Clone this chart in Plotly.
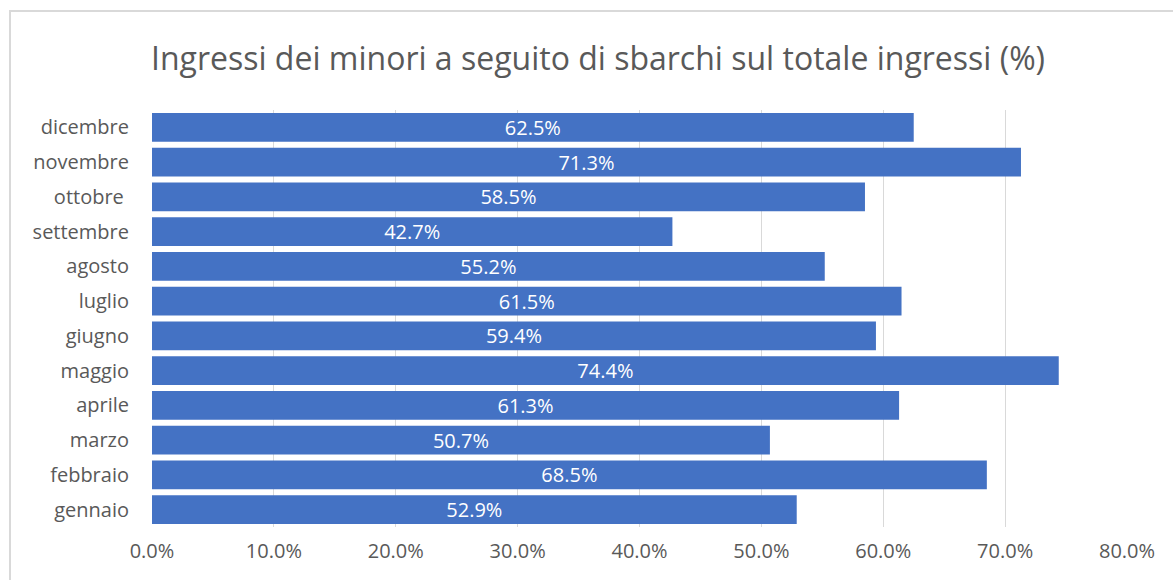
import plotly.graph_objects as go

months = ["gennaio", "febbraio", "marzo", "aprile", "maggio", "giugno",
          "luglio", "agosto", "settembre", "ottobre\u00a0", "novembre", "dicembre"]
values = [52.9, 68.5, 50.7, 61.3, 74.4, 59.4, 61.5, 55.2, 42.7, 58.5, 71.3, 62.5]
tick_vals = [0, 10, 20, 30, 40, 50, 60, 70, 80]
tick_text = ["0.0%", "10.0%", "20.0%", "30.0%", "40.0%", "50.0%", "60.0%", "70.0%", "80.0%"]
labels = [f"{v:.1f}%" for v in values]

W, H = 1173, 580
L, R, T, B = 152, 46, 110, 53
pw, ph = W - L - R, H - T - B
FONT = "Open Sans"

fig = go.Figure(go.Bar(
    x=values, y=months, orientation="h",
    marker=dict(color="#4472C4", line=dict(width=0)),
    text=labels, textposition="inside", insidetextanchor="middle",
    constraintext="none",
    textfont=dict(color="white", size=20, family=FONT),
    hoverinfo="skip",
))

fig.update_layout(
    width=W, height=H,
    margin=dict(l=L, r=R, t=T, b=B),
    paper_bgcolor="white", plot_bgcolor="white",
    bargap=0.17,
    font=dict(family=FONT, color="#595959"),
    title=dict(text="Ingressi dei minori a seguito di sbarchi sul totale ingressi (%)",
               x=598 / W, xanchor="center", y=1 - 59 / H, yanchor="middle",
               font=dict(size=32, color="#595959", family=FONT)),
    showlegend=False,
    uniformtext=dict(mode=False),
)
fig.update_xaxes(range=[0, 80], tickvals=tick_vals, ticktext=tick_text,
                 showgrid=True, gridcolor="#D9D9D9", gridwidth=1.3,
                 zeroline=False, showline=False,
                 tickfont=dict(size=20, color="#595959"),
                 ticks="", ticklabelstandoff=10, fixedrange=True)
fig.update_yaxes(showgrid=False, zeroline=False, showline=False,
                 tickfont=dict(size=20, color="#595959"),
                 ticks="", ticklabelstandoff=22, fixedrange=True)

# chart outer border (Excel chart area)
x0 = (10 - L) / pw
x1 = (W + 5 - L) / pw
y1 = 1 + (T - 11) / ph
y0 = -(B + 5) / ph
fig.add_shape(type="rect", xref="paper", yref="paper", x0=x0, x1=x1, y0=y0, y1=y1,
              line=dict(color="#D9D9D9", width=2), fillcolor="rgba(0,0,0,0)", layer="below")

fig.write_html("out.html", config={"displayModeBar": False},
               post_script="document.body.style.margin='0';document.body.style.overflow='hidden';")
